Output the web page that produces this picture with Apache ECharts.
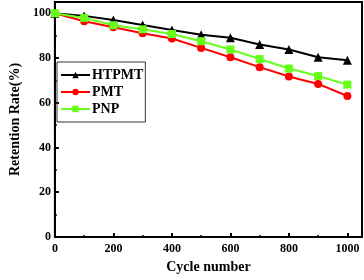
<!DOCTYPE html>
<html><head><meta charset="utf-8">
<script src="https://cdn.jsdelivr.net/npm/echarts@6/dist/echarts.min.js"></script>
<style>html,body{margin:0;padding:0;background:#fff}#c{width:364px;height:280px}</style>
</head><body><div id="c"></div>
<script>
const cycles = [0,100,200,300,400,500,600,700,800,900,1000];
const htpmt = [100,98.8,97,94.7,92.5,90.4,89,86,83.8,80.3,79];
const pmt = [100,96.4,93.7,91,88.7,84.5,80.3,75.9,71.7,68.4,63];
const pnp = [100,97.9,94.6,92.8,90.7,87.5,83.8,79.5,75.3,71.9,68.1];
const seriesNames = ['HTPMT','PMT','PNP'];
const font = 'Liberation Serif, Times New Roman, serif';
function pairs(v){return cycles.map((c,i)=>[c,v[i]]);}
const chart = echarts.init(document.getElementById('c'));
const axisCommon = {
  axisLine:{show:true,lineStyle:{color:'#000',width:2}},
  axisTick:{inside:true,length:4,lineStyle:{color:'#000',width:2}},
  minorTick:{show:true,length:2,lineStyle:{color:'#000',width:1.5}},
  splitLine:{show:false},
  axisLabel:{color:'#000',fontFamily:font,fontWeight:'bold',fontSize:12,showMaxLabel:false,formatter:v=>String(v)},
  nameTextStyle:{color:'#000',fontFamily:font,fontWeight:'bold',fontSize:14},
  nameLocation:'middle'
};
chart.setOption({
  animation:false,
  grid:{left:44,right:2,top:2,bottom:43,show:true,borderColor:'#000',borderWidth:2},
  xAxis:Object.assign({},axisCommon,{type:'value',min:0,max:1050,interval:200,name:'Cycle number',nameGap:23,
    minorTick:Object.assign({},axisCommon.minorTick,{splitNumber:2}),
    axisLabel:Object.assign({},axisCommon.axisLabel,{margin:6})}),
  yAxis:Object.assign({},axisCommon,{type:'value',min:0,max:105,interval:20,name:'Retention Rate(%)',nameGap:23,
    minorTick:Object.assign({},axisCommon.minorTick,{splitNumber:2}),
    axisLabel:Object.assign({},axisCommon.axisLabel,{margin:4})}),
  legend:{
    orient:'vertical',left:57,top:62,padding:[6,2,6,3],itemGap:3,itemWidth:29,itemHeight:8,
    borderColor:'#333',borderWidth:1,
    textStyle:{color:'#000',fontFamily:font,fontWeight:'bold',fontSize:14,padding:[0,0,0,-3]},
    data:seriesNames
  },
  series:[
    {name:seriesNames[0],type:'line',data:pairs(htpmt),symbol:'triangle',symbolSize:9,color:'#000',lineStyle:{width:2}},
    {name:seriesNames[1],type:'line',data:pairs(pmt),symbol:'circle',symbolSize:8,color:'#ff0000',lineStyle:{width:2}},
    {name:seriesNames[2],type:'line',data:pairs(pnp),symbol:'rect',symbolSize:8,color:'#66ff1a',lineStyle:{width:2}}
  ]
});
</script></body></html>
